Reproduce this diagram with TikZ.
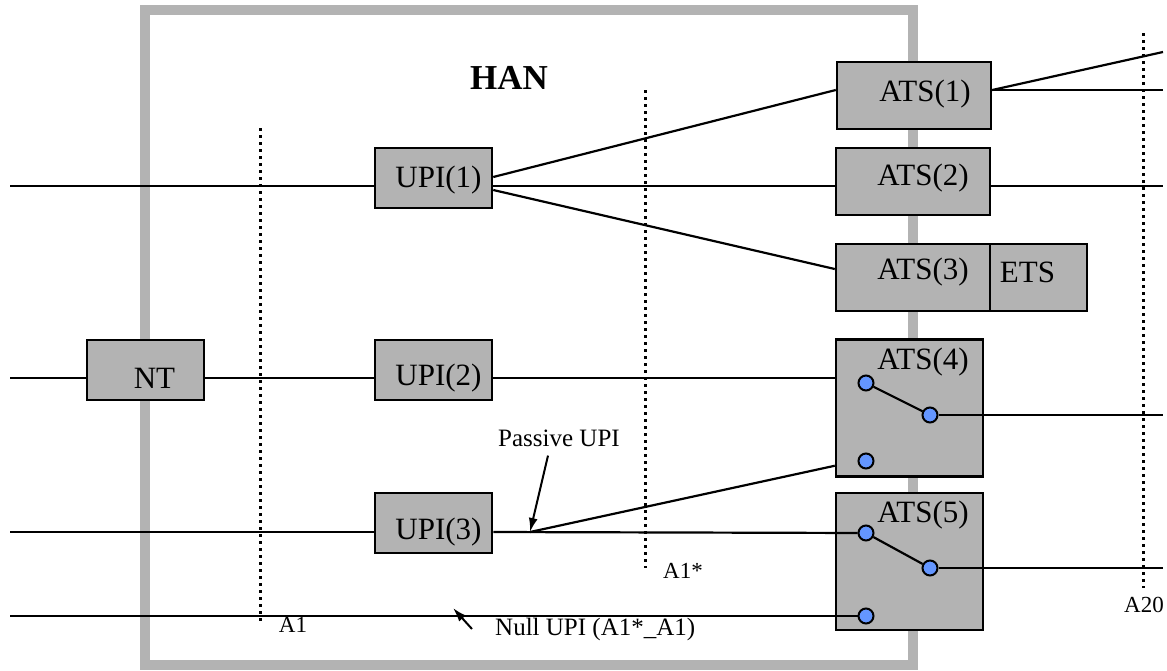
\documentclass[tikz,border=0pt]{standalone}
\usepackage{fontspec}
\setmainfont{Liberation Serif}
\usetikzlibrary{arrows.meta}
\definecolor{boxgray}{RGB}{179,179,179}
\definecolor{pinblue}{RGB}{100,150,255}

\begin{document}
\begin{tikzpicture}[x=1pt, y=-1pt,
  box/.style={draw, line width=2.5pt, fill=boxgray, inner sep=0pt, minimum width=117pt, minimum height=60pt},
  ats/.style={box, minimum width=154pt, minimum height=67pt},
  atssw/.style={box, minimum width=147pt, minimum height=137pt},
  txt/.style={inner sep=0pt, font=\fontsize{31}{31}\selectfont},
  small/.style={inner sep=0pt, font=\fontsize{23}{23}\selectfont},
  note/.style={inner sep=0pt, font=\fontsize{25}{25}\selectfont},
  wire/.style={line width=2.2pt},
  refline/.style={line width=3pt, dash pattern=on 3pt off 4pt},
  pin/.style={circle, draw, line width=2pt, fill=pinblue, inner sep=0pt, minimum size=15pt},
  tip/.style={-{Latex[length=14pt,width=9pt]}, line width=2pt}]

\useasboundingbox (0,0) rectangle (1167,670);

% HAN frame
\draw[boxgray, line width=10pt] (145,10) rectangle (913,665);
\node[inner sep=0pt, font=\fontsize{35}{35}\selectfont\bfseries] (han) at (509,78) {HAN};

% reference points
\coordinate (a1top) at (260,128);
\coordinate (a1bot) at (260,623);
\coordinate (a1stop) at (645,90);
\coordinate (a1sbot) at (645,568);
\coordinate (a20top) at (1143,33);
\coordinate (a20bot) at (1143,588);

\draw[refline] (a1top) -- (a1bot);
\draw[refline] (a1stop) -- (a1sbot);
\draw[refline] (a20top) -- (a20bot);

\node[small] (a1) at (293,625) {A1};
\node[small] (a1s) at (683,571) {A1*};
\node[small] (a20) at (1144,605) {A20};

% boxes
\node[box, label={[txt, xshift=5pt, yshift=-2pt]center:UPI(1)}] (upi1) at (433.5,178) {};
\node[box, label={[txt, xshift=5pt, yshift=-8pt]center:UPI(2)}] (upi2) at (433.5,370) {};
\node[box, label={[txt, xshift=5pt, yshift=-9pt]center:UPI(3)}] (upi3) at (433.5,523) {};
\node[box, label={[txt, xshift=9pt, yshift=-8pt]center:NT}] (nt) at (145.5,370) {};

\node[ats, label={[txt, xshift=11pt, yshift=1pt]center:ATS(1)}] (ats1) at (914,95.5) {};
\node[ats, label={[txt, xshift=10pt, yshift=3pt]center:ATS(2)}] (ats2) at (913,181.5) {};
\node[ats, label={[txt, xshift=10pt, yshift=5pt]center:ATS(3)}] (ats3) at (913,277.5) {};
\node[box, minimum width=97pt, minimum height=67pt, anchor=west, outer sep=0pt,
  label={[txt, xshift=-11pt, yshift=5pt]center:ETS}] (ets) at ([xshift=-1.25pt]ats3.east) {};

\node[atssw, label={[txt, xshift=13.5pt, yshift=46pt]center:ATS(4)}] (ats4) at (909.5,408) {};
\node[atssw, label={[txt, xshift=13.5pt, yshift=46pt]center:ATS(5)}] (ats5) at (909.5,561.5) {};

% switch contacts
\node[pin] (p41) at (866,383) {};
\node[pin] (p42) at (930,415) {};
\node[pin] (p43) at (866,461) {};
\node[pin] (p51) at (866,533) {};
\node[pin] (p52) at (930,568) {};
\node[pin] (p53) at (866,616) {};

% line ends
\coordinate (in1) at (10,186);
\coordinate (in2) at (10,378);
\coordinate (in3) at (10,532);
\coordinate (in4) at (10,616);
\coordinate (out1a) at (1163,52);
\coordinate (out1b) at (1163,90);
\coordinate (out2) at (1163,186);
\coordinate (out4) at (1163,415);
\coordinate (out5) at (1163,568);
\coordinate (passive) at (530,532);

% wires
\draw[wire] (in1) -- ([yshift=-8pt]upi1.west);
\draw[wire] ([yshift=-8pt]upi1.east) -- ([yshift=-4.5pt]ats2.west);
\draw[wire] ([yshift=-4.5pt]ats2.east) -- (out2);
\draw[wire] ([yshift=1pt]upi1.east) -- ([yshift=5.5pt]ats1.west);
\draw[wire] ([yshift=-12pt]upi1.east) -- ([yshift=8.5pt]ats3.west);
\draw[wire] ([yshift=5.5pt]ats1.east) -- (out1a);
\draw[wire] ([yshift=5.5pt]ats1.east) -- (out1b);

\draw[wire] (in2) -- ([yshift=-8pt]nt.west);
\draw[wire] ([yshift=-8pt]nt.east) -- ([yshift=-8pt]upi2.west);
\draw[wire] ([yshift=-8pt]upi2.east) -- ([yshift=30pt]ats4.west);
\draw[wire] (p41) -- (p42);
\draw[wire] (p42) -- (out4);

\draw[wire] (in3) -- ([yshift=-9pt]upi3.west);
\draw[wire] ([yshift=-9pt]upi3.east) -- (p51);
\draw[wire] (passive) -- ([yshift=12pt]ats4.south west);
\draw[wire] (p51) -- (p52);
\draw[wire] (p52) -- (out5);

\draw[wire] (in4) -- (p53);

% notes
\node[note] (plbl) at (559,438) {Passive UPI};
\draw[tip] ([xshift=-11pt,yshift=-9pt]plbl.south) -- (passive);
\node[note, anchor=west] (nlbl) at (495,629) {Null UPI (A1*\_A1)};
\coordinate (nulltip) at (453,608);
\draw[tip] ([xshift=-23pt]nlbl.west) -- (nulltip);

\end{tikzpicture}
\end{document}
